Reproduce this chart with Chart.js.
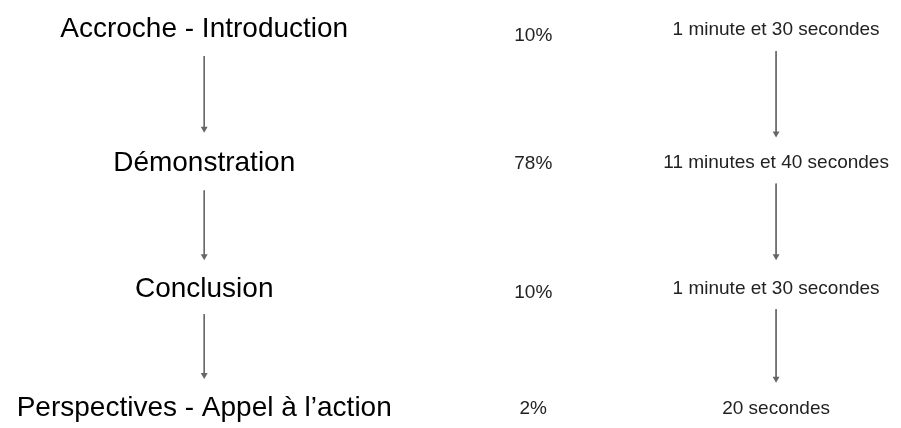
<!DOCTYPE html>
<html lang="fr">
<head>
    <meta charset="UTF-8">
    <title>Structure de la présentation</title>
    <script src="https://cdn.jsdelivr.net/npm/chart.js@4.4.1/dist/chart.umd.min.js"></script>
    <style>
        body { margin: 0; background: #fff; }
        #wrap { width: 901px; height: 428px; position: relative; }
    </style>
</head>
<body>
<div id="wrap">
    <canvas id="planChart"></canvas>
</div>

<script>
    // données
    const stages = ['Accroche - Introduction', 'Démonstration', 'Conclusion', 'Perspectives - Appel à l\u2019action'];
    const shares = [10, 78, 10, 2];
    const durations = ['1 minute et 30 secondes', '11 minutes et 40 secondes', '1 minute et 30 secondes', '20 secondes'];

    // mise en page (pixels du canevas 901x428), lignes de base du texte
    const colX = { stage: 202, share: 534, duration: 779 };
    const stageY = [34, 170, 299, 420];
    const shareY = [38, 168, 300, 418];
    const durationY = [32, 167, 296, 418];
    // flèches : [début, fin] en y
    const stageArrows = [[53, 127], [190, 257], [316, 378]];
    const durationArrows = [[48, 132], [183, 257], [311, 382]];

    const arrowColor = '#666666';

    function arrowDataset(x, seg) {
        return {
            type: 'line',
            data: [{ x: x, y: seg[0] }, { x: x, y: seg[1] }],
            borderColor: arrowColor,
            borderWidth: 1,
            backgroundColor: arrowColor,
            pointBackgroundColor: arrowColor,
            pointBorderColor: arrowColor,
            pointBorderWidth: 0,
            pointStyle: 'triangle',
            pointRotation: 180,
            pointRadius: [0, 4],
            pointHoverRadius: 0
        };
    }

    const datasets = [];
    stageArrows.forEach(seg => datasets.push(arrowDataset(colX.stage, seg)));
    durationArrows.forEach(seg => datasets.push(arrowDataset(colX.duration, seg)));

    // textes
    const columns = [
        { x: colX.stage, ys: stageY, texts: stages, font: '28px "Liberation Sans", Arial, sans-serif', color: '#000' },
        { x: colX.share, ys: shareY, texts: shares.map(v => v + '%'), font: '19px "Liberation Sans", Arial, sans-serif', color: '#222' },
        { x: colX.duration, ys: durationY, texts: durations, font: '19px "Liberation Sans", Arial, sans-serif', color: '#222' }
    ];

    const textPlugin = {
        id: 'textPlugin',
        afterDatasetsDraw(chart) {
            const ctx = chart.ctx;
            const xs = chart.scales.x;
            const ys = chart.scales.y;
            ctx.save();
            ctx.textAlign = 'center';
            ctx.textBaseline = 'alphabetic';
            columns.forEach(col => {
                ctx.font = col.font;
                ctx.fillStyle = col.color;
                col.texts.forEach((t, i) => {
                    ctx.fillText(t, xs.getPixelForValue(col.x), ys.getPixelForValue(col.ys[i]));
                });
            });
            ctx.restore();
        }
    };

    new Chart(document.getElementById('planChart'), {
        type: 'scatter',
        data: { datasets: datasets },
        options: {
            responsive: true,
            maintainAspectRatio: false,
            animation: false,
            layout: { padding: 0 },
            plugins: { legend: { display: false }, tooltip: { enabled: false } },
            scales: {
                x: { type: 'linear', min: 0, max: 901, display: false },
                y: { type: 'linear', min: 0, max: 428, reverse: true, display: false }
            }
        },
        plugins: [textPlugin]
    });
</script>
</body>
</html>
